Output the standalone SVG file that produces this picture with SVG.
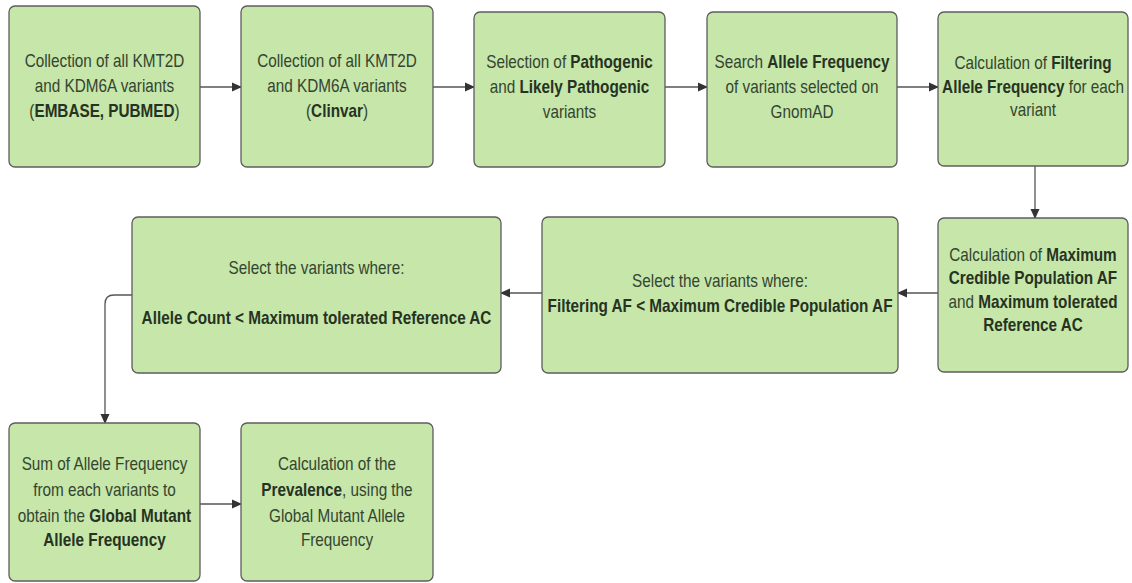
<svg xmlns="http://www.w3.org/2000/svg" width="1132" height="583" viewBox="0 0 1132 583">
<defs>
<marker id="ah" markerWidth="10" markerHeight="10" refX="9" refY="5" orient="auto" markerUnits="userSpaceOnUse">
<path d="M0,0.5 L10,5 L0,9.5 Z" fill="#333"/>
</marker>
<style>
.box{fill:#c6e6aa;stroke:#5d5d5d;stroke-width:1.3}
.t{font-family:"Liberation Sans",Arial,sans-serif;font-size:18px;fill:#34452f;text-anchor:middle}
.b{font-weight:bold;fill:#263322}
.c{fill:none;stroke:#555;stroke-width:1.3}
</style>
</defs>
<rect width="1132" height="583" fill="#fff"/>
<g id="connectors">
<line class="c" x1="200" y1="87" x2="241" y2="87" marker-end="url(#ah)"/>
<line class="c" x1="433" y1="87" x2="474" y2="87" marker-end="url(#ah)"/>
<line class="c" x1="665" y1="87" x2="707" y2="87" marker-end="url(#ah)"/>
<line class="c" x1="897" y1="87" x2="938" y2="87" marker-end="url(#ah)"/>
<line class="c" x1="1035" y1="166" x2="1035" y2="218" marker-end="url(#ah)"/>
<line class="c" x1="938" y1="293" x2="898" y2="293" marker-end="url(#ah)"/>
<line class="c" x1="542" y1="293" x2="501" y2="293" marker-end="url(#ah)"/>
<path class="c" d="M132,295 L114,295 Q105,295 105,304 L105,423" marker-end="url(#ah)"/>
<line class="c" x1="200" y1="504" x2="241" y2="504" marker-end="url(#ah)"/>
</g>
<g id="n1">
<rect class="box" x="9" y="6" width="191" height="161" rx="6"/>
<g transform="translate(104.5,0) scale(0.85,1)">
<text class="t" y="67">Collection of all KMT2D</text>
<text class="t" y="92">and KDM6A variants</text>
<text class="t" y="117">(<tspan class="b">EMBASE, PUBMED</tspan>)</text>
</g>
</g>
<g id="n2">
<rect class="box" x="241" y="6" width="192" height="161" rx="6"/>
<g transform="translate(337,0) scale(0.85,1)">
<text class="t" y="67">Collection of all KMT2D</text>
<text class="t" y="92">and KDM6A variants</text>
<text class="t" y="117">(<tspan class="b">Clinvar</tspan>)</text>
</g>
</g>
<g id="n3">
<rect class="box" x="474" y="12" width="191" height="155" rx="6"/>
<g transform="translate(569.5,0) scale(0.85,1)">
<text class="t" y="68">Selection of <tspan class="b">Pathogenic</tspan></text>
<text class="t" y="93">and <tspan class="b">Likely Pathogenic</tspan></text>
<text class="t" y="118">variants</text>
</g>
</g>
<g id="n4">
<rect class="box" x="707" y="12" width="190" height="155" rx="6"/>
<g transform="translate(802,0) scale(0.85,1)">
<text class="t" y="68">Search <tspan class="b">Allele Frequency</tspan></text>
<text class="t" y="93">of variants selected on</text>
<text class="t" y="118">GnomAD</text>
</g>
</g>
<g id="n5">
<rect class="box" x="938" y="12" width="190" height="154" rx="6"/>
<g transform="translate(1033,0) scale(0.85,1)">
<text class="t" y="69">Calculation of <tspan class="b">Filtering</tspan></text>
<text class="t" y="93"><tspan class="b">Allele Frequency</tspan> for each</text>
<text class="t" y="116">variant</text>
</g>
</g>
<g id="n6">
<rect class="box" x="938" y="218" width="190" height="154" rx="6"/>
<g transform="translate(1033,0) scale(0.85,1)">
<text class="t" y="261">Calculation of <tspan class="b">Maximum</tspan></text>
<text class="t" y="284"><tspan class="b">Credible Population AF</tspan></text>
<text class="t" y="308">and <tspan class="b">Maximum tolerated</tspan></text>
<text class="t" y="331"><tspan class="b">Reference AC</tspan></text>
</g>
</g>
<g id="n7">
<rect class="box" x="542" y="217" width="356" height="156" rx="6"/>
<g transform="translate(720,0) scale(0.85,1)">
<text class="t" y="287">Select the variants where:</text>
<text class="t" y="312"><tspan class="b">Filtering AF &lt; Maximum Credible Population AF</tspan></text>
</g>
</g>
<g id="n8">
<rect class="box" x="132" y="217" width="369" height="156" rx="6"/>
<g transform="translate(316.5,0) scale(0.85,1)">
<text class="t" y="274">Select the variants where:</text>
<text class="t" y="324"><tspan class="b">Allele Count &lt; Maximum tolerated Reference AC</tspan></text>
</g>
</g>
<g id="n9">
<rect class="box" x="9" y="423" width="191" height="158" rx="6"/>
<g transform="translate(104.5,0) scale(0.85,1)">
<text class="t" y="470">Sum of Allele Frequency</text>
<text class="t" y="496">from each variants to</text>
<text class="t" y="522">obtain the <tspan class="b">Global Mutant</tspan></text>
<text class="t" y="546"><tspan class="b">Allele Frequency</tspan></text>
</g>
</g>
<g id="n10">
<rect class="box" x="241" y="423" width="192" height="158" rx="6"/>
<g transform="translate(337,0) scale(0.85,1)">
<text class="t" y="470">Calculation of the</text>
<text class="t" y="496"><tspan class="b">Prevalence</tspan>, using the</text>
<text class="t" y="522">Global Mutant Allele</text>
<text class="t" y="546">Frequency</text>
</g>
</g>
</svg>
